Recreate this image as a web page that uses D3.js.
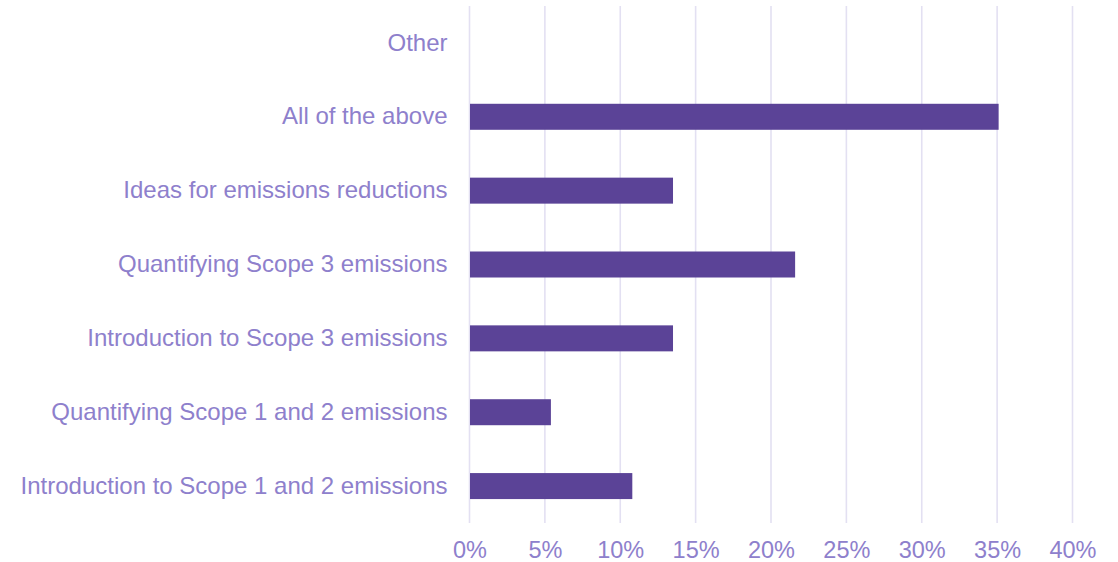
<!DOCTYPE html>
<html>
<head>
<meta charset="utf-8">
<script src="https://cdn.jsdelivr.net/npm/d3@7"></script>
<style>
  html, body { margin: 0; padding: 0; background: #ffffff; }
  svg { display: block; }
  text { font-family: "Liberation Sans", Arial, sans-serif; }
</style>
</head>
<body>
<svg id="chart" width="1118" height="562"></svg>
<script>
// Survey topics, top to bottom
const categories = [
  "Other",
  "All of the above",
  "Ideas for emissions reductions",
  "Quantifying Scope 3 emissions",
  "Introduction to Scope 3 emissions",
  "Quantifying Scope 1 and 2 emissions",
  "Introduction to Scope 1 and 2 emissions"
];
// Share of respondents (%)
const values = [0, 35.1, 13.5, 21.6, 13.5, 5.4, 10.8];
const xTicks = [0, 5, 10, 15, 20, 25, 30, 35, 40];

(function draw() {
  const svg = d3.select("#chart");
  const plotLeft = 469.5, plotRight = 1072.5, plotTop = 6, plotBottom = 523;

  const x = d3.scaleLinear().domain([0, 40]).range([plotLeft, plotRight]);
  const y = d3.scaleBand().domain(categories).range([plotTop, plotBottom])
    .paddingInner(0.648).paddingOuter(0.324);

  const textColor = "#8e80cc";
  const gridColor = "#e3e0f2";
  const barColor = "#5b4397";

  // vertical gridlines
  svg.append("g")
    .selectAll("line")
    .data(xTicks)
    .join("line")
    .attr("x1", d => x(d)).attr("x2", d => x(d))
    .attr("y1", plotTop).attr("y2", plotBottom)
    .attr("stroke", gridColor)
    .attr("stroke-width", 1.6);

  // bars
  svg.append("g")
    .selectAll("rect")
    .data(categories.map((c, i) => ({ c, v: values[i] })))
    .join("rect")
    .attr("x", x(0) + 0.5)
    .attr("y", d => y(d.c))
    .attr("width", d => Math.max(0, x(d.v) - x(0) - 0.5))
    .attr("height", y.bandwidth())
    .attr("fill", barColor);

  // category axis
  const yAxis = svg.append("g")
    .attr("transform", `translate(${plotLeft},0)`)
    .call(d3.axisLeft(y).tickSize(0).tickPadding(22));
  yAxis.select(".domain").remove();
  yAxis.selectAll("text")
    .attr("fill", textColor)
    .style("font-size", "24px");

  // value axis
  const xAxis = svg.append("g")
    .attr("transform", `translate(0,${plotBottom})`)
    .call(d3.axisBottom(x).tickValues(xTicks).tickFormat(d => d + "%").tickSize(0).tickPadding(18));
  xAxis.select(".domain").remove();
  xAxis.selectAll("text")
    .attr("fill", textColor)
    .style("font-size", "23.5px");
})();
</script>
</body>
</html>
